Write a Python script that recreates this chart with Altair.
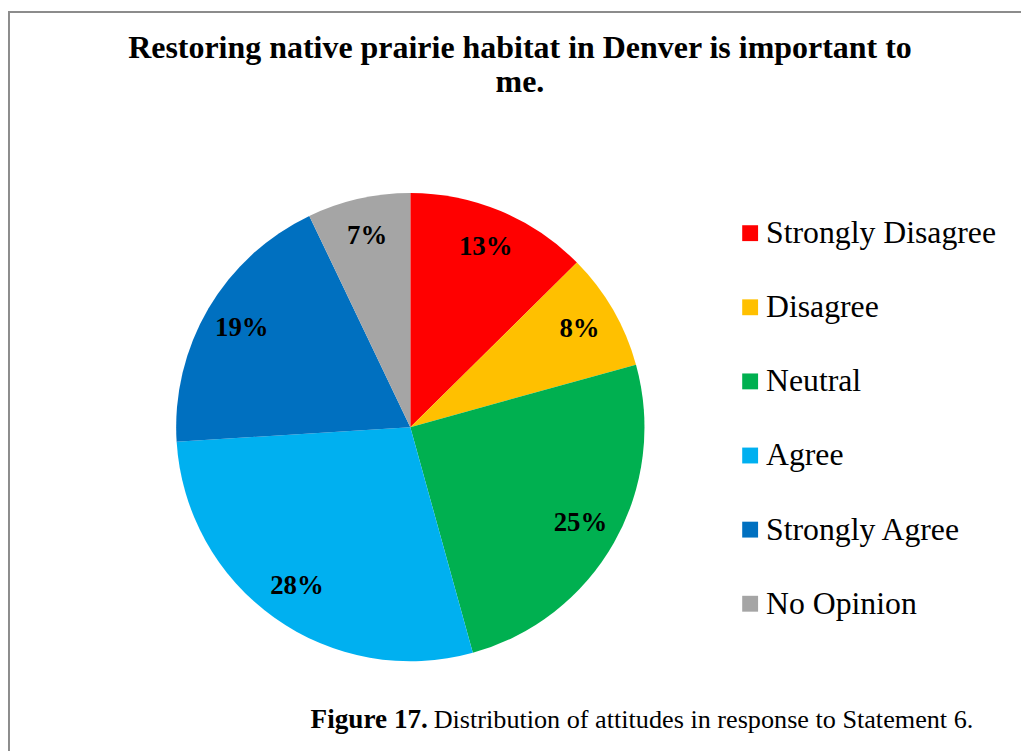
import altair as alt
import pandas as pd

categories = ["Strongly Disagree", "Disagree", "Neutral", "Agree", "Strongly Agree", "No Opinion"]
shares = [0.126, 0.081, 0.250, 0.283, 0.189, 0.071]
colors = ["#FF0000", "#FFC000", "#00B050", "#00B0F0", "#0070C0", "#A5A5A5"]
title_lines = ["Restoring native prairie habitat in Denver is important to", "me."]
caption_bold = "Figure 17."
caption_rest = "Distribution of attitudes in response to Statement 6."

df = pd.DataFrame({"category": categories, "share": shares,
                   "order": list(range(len(categories)))})
one = pd.DataFrame({"k": [0]})

W, H = 1021, 746
CX, CY = 405.5, 419.5
R = 236
LR = 197
FONT = "Liberation Serif"

color = alt.Color(
    "category:N",
    scale=alt.Scale(domain=categories, range=colors),
    sort=categories,
    legend=alt.Legend(
        title=None, orient="none", legendX=732, legendY=208,
        symbolType="square", symbolSize=256, symbolStrokeWidth=0,
        labelFont=FONT, labelFontSize=32, labelColor="black",
        labelLimit=600, labelOffset=0, rowPadding=42.7, padding=0,
    ),
)

pie = alt.Chart(df).mark_arc(outerRadius=R).encode(
    theta=alt.Theta("share:Q", stack=True),
    color=color,
    order=alt.Order("order:Q"),
    x=alt.value(CX), y=alt.value(CY),
)

labels = alt.Chart(df).mark_text(
    radius=LR, font=FONT, fontSize=27, fontWeight="bold", color="black",
    baseline="middle", align="center",
).encode(
    theta=alt.Theta("share:Q", stack=True),
    order=alt.Order("order:Q"),
    text=alt.Text("share:Q", format=".0%"),
    x=alt.value(CX), y=alt.value(CY),
)

title = alt.Chart(one).mark_text(
    text=title_lines, font=FONT, fontSize=32.2, fontWeight="bold", lineHeight=35,
    align="center", baseline="alphabetic", color="black",
).encode(x=alt.value(516), y=alt.value(47))

cap1 = alt.Chart(one).mark_text(
    text=caption_bold, font=FONT, fontSize=27.4, fontWeight="bold",
    align="left", baseline="alphabetic", color="black",
).encode(x=alt.value(305), y=alt.value(723))

cap2 = alt.Chart(one).mark_text(
    text=caption_rest, font=FONT, fontSize=26.4,
    align="left", baseline="alphabetic", color="black",
).encode(x=alt.value(429), y=alt.value(723))

border_left = alt.Chart(one).mark_rule(color="#8C8C8C", strokeWidth=2).encode(
    x=alt.value(1), y=alt.value(0), y2=alt.value(H))
border_top = alt.Chart(one).mark_rule(color="#8C8C8C", strokeWidth=2).encode(
    x=alt.value(0), x2=alt.value(W), y=alt.value(1))

chart = alt.layer(border_left, border_top, pie, labels, title, cap1, cap2).properties(
    width=W, height=H, padding=0,
    autosize=alt.AutoSizeParams(type="none"),
).configure_view(stroke="transparent")

chart.save("out.html", embed_options={"renderer": "svg", "actions": False})
